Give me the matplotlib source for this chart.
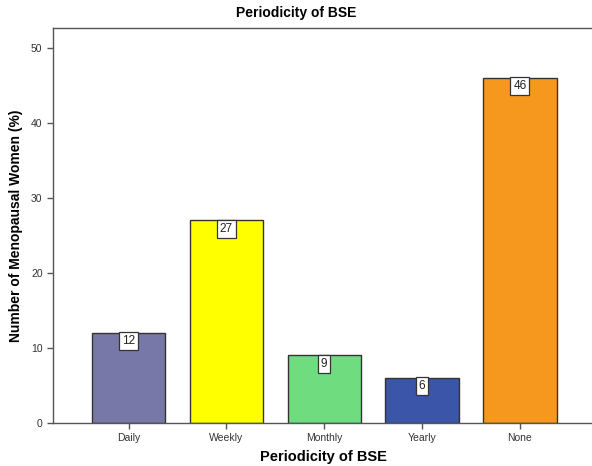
import matplotlib
matplotlib.use('Agg')
import matplotlib.pyplot as plt

# BSE periodicity among menopausal women
categories = ['Daily', 'Weekly', 'Monthly', 'Yearly', 'None']
percent = [12, 27, 9, 6, 46]
colors = ['#7878A8', '#FFFF00', '#6FDC80', '#3B55A8', '#F7981E']

plt.rcParams['font.family'] = ['Liberation Sans', 'DejaVu Sans']

fig = plt.figure(figsize=(5.92, 4.66), dpi=100)
ax = fig.add_axes([0.0895, 0.0923, 0.93, 0.848])

x = range(len(categories))
bars = ax.bar(x, percent, width=0.75, color=colors, edgecolor='#333333', linewidth=1.0, zorder=2)

for b, v in zip(bars, percent):
    ax.text(b.get_x() + b.get_width() / 2, v - 0.3, str(v), ha='center', va='top',
            fontsize=8.5, color='#222222',
            bbox=dict(boxstyle='square,pad=0.25', fc='white', ec='#333333', lw=0.9), zorder=3)

ax.set_xlim(-0.772, 4.855)
ax.set_ylim(0, 52.67)
ax.set_xticks(list(x))
ax.set_xticklabels(categories)
ax.set_yticks([0, 10, 20, 30, 40, 50])

for s in ['left', 'top', 'bottom', 'right']:
    ax.spines[s].set_color('#555555')
    ax.spines[s].set_linewidth(1.0)
ax.tick_params(axis='both', direction='out', length=4, width=1, color='#555555',
               labelsize=7.5, labelcolor='#333333')

ax.set_ylabel('Number of Menopausal Women (%)', fontsize=10, fontweight='bold', labelpad=6)
fig.text(0.547, 0.004, 'Periodicity of BSE', ha='center', va='bottom', fontsize=10.5, fontweight='bold')
fig.text(0.5, 0.972, 'Periodicity of BSE', ha='center', va='center', fontsize=10, fontweight='bold')

fig.savefig('out.png', dpi=100)
